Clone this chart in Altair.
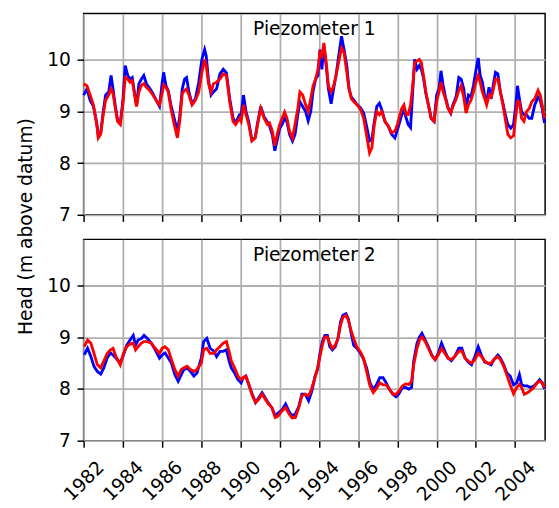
import altair as alt
import pandas as pd

# ---------------- data ----------------
years1 = [1982.00, 1982.17, 1982.33, 1982.50, 1982.67, 1982.75, 1982.87, 1983.00, 1983.12, 1983.28,
          1983.40, 1983.50, 1983.62, 1983.73, 1983.87, 1984.00, 1984.12, 1984.25, 1984.37, 1984.48,
          1984.62, 1984.70, 1984.82, 1984.95, 1985.07, 1985.20, 1985.37, 1985.53, 1985.70, 1985.87,
          1986.00, 1986.08, 1986.20, 1986.32, 1986.45, 1986.62, 1986.78, 1986.90, 1987.03, 1987.15,
          1987.25, 1987.37, 1987.53, 1987.70, 1987.87, 1988.03, 1988.17, 1988.25, 1988.37, 1988.50,
          1988.62, 1988.78, 1988.95, 1989.12, 1989.28, 1989.45, 1989.62, 1989.75, 1989.95, 1990.03,
          1990.15, 1990.28, 1990.42, 1990.58, 1990.75, 1990.87, 1991.03, 1991.20, 1991.37, 1991.48,
          1991.62, 1991.75, 1991.87, 1992.00, 1992.12, 1992.25, 1992.37, 1992.50, 1992.65, 1992.78,
          1992.92, 1993.03, 1993.17, 1993.32, 1993.45, 1993.58, 1993.70, 1993.83, 1993.95, 1994.05,
          1994.15, 1994.25, 1994.37, 1994.48, 1994.62, 1994.75, 1994.87, 1995.03, 1995.15, 1995.28,
          1995.42, 1995.53, 1995.65, 1995.78, 1995.95, 1996.12, 1996.28, 1996.45, 1996.58, 1996.70,
          1996.82, 1996.95, 1997.08, 1997.20, 1997.37, 1997.53, 1997.70, 1997.87, 1998.00, 1998.08,
          1998.22, 1998.33, 1998.45, 1998.55, 1998.67, 1998.78, 1998.88, 1999.00, 1999.12, 1999.22,
          1999.33, 1999.45, 1999.58, 1999.72, 1999.87, 2000.00, 2000.12, 2000.22, 2000.33, 2000.45,
          2000.58, 2000.72, 2000.83, 2001.00, 2001.13, 2001.25, 2001.38, 2001.50, 2001.62, 2001.75,
          2001.88, 2002.00, 2002.12, 2002.22, 2002.33, 2002.45, 2002.55, 2002.67, 2002.78, 2002.88,
          2003.00, 2003.12, 2003.25, 2003.38, 2003.52, 2003.63, 2003.78, 2003.92, 2004.02, 2004.12,
          2004.22, 2004.33, 2004.45, 2004.58, 2004.72, 2004.85, 2005.00, 2005.17, 2005.28, 2005.38,
          2005.50]
observed1 = [9.32, 9.44, 9.22, 9.10, 8.78, 8.52, 8.58, 9.00, 9.32, 9.38,
             9.70, 9.44, 9.10, 8.84, 8.78, 9.20, 9.89, 9.70, 9.63, 9.66,
             9.30, 9.12, 9.54, 9.63, 9.70, 9.54, 9.45, 9.35, 9.22, 9.10,
             9.54, 9.76, 9.50, 9.40, 9.13, 8.87, 8.62, 8.90, 9.44, 9.63,
             9.66, 9.38, 9.15, 9.25, 9.57, 10.01, 10.20, 10.08, 9.60, 9.32,
             9.38, 9.44, 9.73, 9.82, 9.75, 9.25, 8.87, 8.78, 8.94, 8.94,
             9.32, 9.00, 8.80, 8.45, 8.50, 8.78, 9.10, 8.90, 8.80, 8.72,
             8.55, 8.24, 8.45, 8.68, 8.75, 8.87, 8.80, 8.56, 8.43, 8.56,
             8.94, 9.19, 9.10, 9.00, 8.82, 9.00, 9.40, 9.63, 9.70, 10.20,
             9.82, 10.27, 9.89, 9.44, 9.15, 9.45, 9.70, 10.14, 10.46, 10.20,
             9.89, 9.45, 9.28, 9.22, 9.13, 9.07, 8.97, 8.68, 8.43, 8.46,
             8.80, 9.10, 9.16, 9.04, 8.80, 8.72, 8.56, 8.49, 8.65, 8.75,
             8.94, 9.03, 8.87, 8.75, 8.69, 9.40, 10.01, 9.82, 9.89, 9.82,
             9.65, 9.35, 9.13, 8.87, 8.81, 9.32, 9.44, 9.79, 9.51, 9.28,
             9.08, 8.97, 9.13, 9.30, 9.66, 9.63, 9.44, 9.06, 9.32, 9.28,
             9.51, 9.79, 10.04, 9.70, 9.57, 9.30, 9.19, 9.47, 9.25, 9.50,
             9.76, 9.73, 9.38, 9.16, 8.91, 8.75, 8.68, 8.75, 9.06, 9.50,
             9.25, 9.00, 8.94, 8.94, 8.87, 8.87, 9.13, 9.28, 9.22, 9.06,
             8.78]
simulated1 = [9.54, 9.50, 9.32, 9.13, 8.75, 8.49, 8.56, 8.94, 9.22, 9.32,
              9.44, 9.35, 9.06, 8.81, 8.75, 9.13, 9.66, 9.63, 9.57, 9.60,
              9.28, 9.10, 9.38, 9.51, 9.54, 9.47, 9.41, 9.32, 9.22, 9.13,
              9.35, 9.51, 9.47, 9.38, 9.06, 8.75, 8.49, 8.81, 9.35, 9.41,
              9.44, 9.32, 9.13, 9.22, 9.38, 9.76, 10.01, 9.89, 9.54, 9.38,
              9.54, 9.57, 9.63, 9.73, 9.70, 9.19, 8.81, 8.75, 8.87, 8.81,
              9.13, 8.94, 8.75, 8.43, 8.49, 8.75, 9.06, 8.87, 8.75, 8.78,
              8.62, 8.34, 8.56, 8.75, 8.87, 8.99, 8.87, 8.62, 8.49, 8.75,
              9.06, 9.38, 9.32, 9.13, 9.00, 9.25, 9.50, 9.63, 9.82, 10.14,
              10.08, 10.33, 9.95, 9.50, 9.38, 9.50, 9.70, 10.01, 10.23, 10.14,
              9.76, 9.44, 9.25, 9.19, 9.13, 9.04, 8.87, 8.49, 8.20, 8.30,
              8.75, 9.00, 8.94, 9.00, 8.81, 8.72, 8.59, 8.62, 8.75, 8.87,
              9.06, 9.13, 8.94, 8.94, 9.13, 9.50, 9.95, 9.98, 10.01, 9.95,
              9.70, 9.38, 9.13, 8.87, 8.81, 9.19, 9.38, 9.57, 9.38, 9.25,
              9.06, 8.97, 9.10, 9.25, 9.41, 9.50, 9.28, 8.97, 9.13, 9.22,
              9.38, 9.57, 9.70, 9.57, 9.38, 9.25, 9.13, 9.32, 9.28, 9.41,
              9.63, 9.63, 9.38, 9.13, 8.81, 8.56, 8.49, 8.53, 8.87, 9.19,
              9.19, 8.87, 8.81, 9.00, 9.06, 9.19, 9.25, 9.41, 9.32, 9.13,
              8.87]

years2 = [1982.03, 1982.20, 1982.37, 1982.53, 1982.70, 1982.87, 1983.03, 1983.20, 1983.37, 1983.50,
          1983.65, 1983.87, 1984.03, 1984.20, 1984.37, 1984.53, 1984.65, 1984.78, 1984.95, 1985.08,
          1985.25, 1985.45, 1985.65, 1985.87, 1986.00, 1986.15, 1986.32, 1986.48, 1986.65, 1986.82,
          1986.98, 1987.12, 1987.28, 1987.45, 1987.62, 1987.78, 1988.00, 1988.12, 1988.28, 1988.45,
          1988.65, 1988.78, 1988.95, 1989.12, 1989.28, 1989.42, 1989.53, 1989.70, 1989.87, 1990.03,
          1990.13, 1990.27, 1990.43, 1990.60, 1990.77, 1990.93, 1991.10, 1991.27, 1991.43, 1991.60,
          1991.77, 1991.93, 1992.10, 1992.30, 1992.47, 1992.63, 1992.80, 1992.97, 1993.13, 1993.30,
          1993.47, 1993.63, 1993.80, 1993.93, 1994.05, 1994.17, 1994.30, 1994.43, 1994.55, 1994.68,
          1994.83, 1994.97, 1995.10, 1995.22, 1995.38, 1995.50, 1995.63, 1995.77, 1995.93, 1996.10,
          1996.27, 1996.43, 1996.60, 1996.77, 1996.93, 1997.10, 1997.27, 1997.43, 1997.60, 1997.77,
          1997.93, 1998.08, 1998.25, 1998.42, 1998.58, 1998.72, 1998.83, 1999.00, 1999.13, 1999.25,
          1999.42, 1999.58, 1999.75, 1999.92, 2000.08, 2000.25, 2000.42, 2000.58, 2000.75, 2000.92,
          2001.13, 2001.28, 2001.45, 2001.62, 2001.78, 2001.95, 2002.12, 2002.28, 2002.45, 2002.62,
          2002.78, 2002.92, 2003.12, 2003.25, 2003.42, 2003.58, 2003.75, 2003.92, 2004.08, 2004.22,
          2004.33, 2004.47, 2004.62, 2004.78, 2004.95, 2005.12, 2005.25, 2005.38, 2005.50]
observed2 = [8.66, 8.79, 8.63, 8.44, 8.34, 8.29, 8.41, 8.60, 8.70, 8.66,
             8.60, 8.50, 8.66, 8.85, 8.95, 9.04, 8.85, 8.95, 8.98, 9.04,
             8.98, 8.89, 8.76, 8.60, 8.66, 8.70, 8.60, 8.50, 8.28, 8.15,
             8.28, 8.38, 8.41, 8.34, 8.25, 8.31, 8.60, 8.92, 8.98, 8.79,
             8.73, 8.63, 8.73, 8.73, 8.76, 8.54, 8.41, 8.31, 8.18, 8.12,
             8.22, 8.25, 8.08, 7.90, 7.74, 7.83, 7.93, 7.82, 7.72, 7.64,
             7.48, 7.54, 7.59, 7.71, 7.57, 7.48, 7.52, 7.66, 7.90, 7.90,
             7.77, 7.95, 8.25, 8.38, 8.69, 8.92, 9.04, 9.04, 8.82, 8.76,
             8.82, 8.98, 9.30, 9.43, 9.46, 9.36, 9.10, 8.85, 8.79, 8.70,
             8.58, 8.41, 8.12, 7.99, 8.08, 8.22, 8.22, 8.12, 7.99, 7.90,
             7.85, 7.91, 8.03, 8.03, 8.00, 8.03, 8.54, 8.89, 9.01, 9.08,
             8.95, 8.82, 8.66, 8.57, 8.69, 8.89, 8.73, 8.60, 8.55, 8.63,
             8.79, 8.79, 8.60, 8.52, 8.47, 8.63, 8.82, 8.66, 8.52, 8.50,
             8.47, 8.57, 8.66, 8.60, 8.47, 8.31, 8.25, 8.08, 8.12, 8.28,
             8.09, 8.06, 8.06, 8.03, 8.06, 8.12, 8.18, 8.12, 8.00]
simulated2 = [8.82, 8.95, 8.89, 8.69, 8.47, 8.41, 8.54, 8.69, 8.76, 8.79,
              8.63, 8.47, 8.69, 8.82, 8.87, 8.89, 8.76, 8.82, 8.89, 8.92,
              8.92, 8.89, 8.79, 8.69, 8.79, 8.82, 8.76, 8.57, 8.38, 8.25,
              8.38, 8.41, 8.44, 8.38, 8.34, 8.38, 8.50, 8.76, 8.79, 8.69,
              8.69, 8.76, 8.82, 8.89, 8.92, 8.73, 8.54, 8.41, 8.25, 8.18,
              8.22, 8.25, 8.08, 7.87, 7.74, 7.80, 7.90, 7.80, 7.71, 7.64,
              7.45, 7.48, 7.57, 7.64, 7.52, 7.44, 7.45, 7.64, 7.87, 7.90,
              7.87, 8.01, 8.22, 8.41, 8.63, 8.85, 9.01, 9.01, 8.89, 8.79,
              8.85, 8.98, 9.24, 9.39, 9.43, 9.33, 9.14, 8.98, 8.82, 8.73,
              8.60, 8.34, 8.06, 7.93, 8.01, 8.12, 8.08, 8.08, 7.99, 7.90,
              7.90, 7.96, 8.06, 8.10, 8.09, 8.15, 8.47, 8.79, 8.95, 9.01,
              8.92, 8.79, 8.65, 8.57, 8.66, 8.79, 8.69, 8.60, 8.57, 8.63,
              8.73, 8.74, 8.60, 8.54, 8.50, 8.57, 8.69, 8.63, 8.54, 8.50,
              8.50, 8.57, 8.63, 8.57, 8.44, 8.27, 8.08, 7.91, 8.03, 8.09,
              8.03, 7.90, 7.93, 7.97, 8.03, 8.12, 8.15, 8.12, 8.03]

panel_titles = ["Piezometer 1", "Piezometer 2"]
x_ticks = [1982, 1984, 1986, 1988, 1990, 1992, 1994, 1996, 1998, 2000, 2002, 2004]
y_ticks = [7, 8, 9, 10]
y_label = "Head (m above datum)"

# ---------------- chart ----------------
W, H = 470, 205
FONT = "DejaVu Sans"
FS = 19
GRID = dict(grid=True, gridColor="#b0b0b0", gridWidth=1.8, gridOpacity=1)

xscale = alt.Scale(domain=[1982, 2005.53], nice=False, zero=False)
yscale = alt.Scale(domain=[7, 10.9], nice=False, zero=False)


def panel(years, obs, sim, title, bottom):
    df = pd.DataFrame({"year": years, "obs": obs, "sim": sim})
    xaxis = alt.Axis(values=x_ticks, format="d", title=None, labels=bottom,
                     labelAngle=-45, labelAlign="center", labelBaseline="middle",
                     labelPadding=34, labelOverlap=False, labelFlush=False, **GRID)
    yaxis = alt.Axis(values=y_ticks, title=None, format="d", **GRID)
    base = alt.Chart(df)
    blue = base.mark_line(color="#0000ff", strokeWidth=2.9).encode(
        x=alt.X("year:Q", scale=xscale, axis=xaxis),
        y=alt.Y("obs:Q", scale=yscale, axis=yaxis))
    red = base.mark_line(color="#ff0000", strokeWidth=2.9).encode(
        x=alt.X("year:Q", scale=xscale, axis=xaxis),
        y=alt.Y("sim:Q", scale=yscale, axis=yaxis))
    ttl = alt.Chart(pd.DataFrame({"t": [title]})).mark_text(
        font=FONT, fontSize=FS, color="black", baseline="alphabetic", align="center"
    ).encode(text="t:N", x=alt.value(W / 2), y=alt.value(22))
    layers = [blue, red, ttl]
    if not bottom:
        ylab = alt.Chart(pd.DataFrame({"t": [y_label]})).mark_text(
            font=FONT, fontSize=FS, color="black", baseline="middle",
            align="center", angle=270
        ).encode(text="t:N", x=alt.value(-59), y=alt.value(217))
        # white anchor character fixing the left edge of the drawing
        edge = alt.Chart(pd.DataFrame({"t": ["."]})).mark_text(
            font=FONT, fontSize=8, color="white", align="left", baseline="middle"
        ).encode(text="t:N", x=alt.value(-76), y=alt.value(60))
        layers += [ylab, edge]
    return alt.layer(*layers).properties(width=W, height=H)


top = panel(years1, observed1, simulated1, panel_titles[0], False)
bot = panel(years2, observed2, simulated2, panel_titles[1], True)

chart = alt.vconcat(top, bot, spacing=25).properties(
    bounds="flush", padding=0
).configure(padding=0).configure_view(
    stroke="black", strokeWidth=1.5
).configure_axis(
    domain=False, tickColor="black", tickSize=6.7, tickWidth=1.5,
    labelFont=FONT, labelFontSize=FS, labelColor="black", labelPadding=6.7,
)

chart.save("out.html", embed_options={"renderer": "svg", "actions": False})
